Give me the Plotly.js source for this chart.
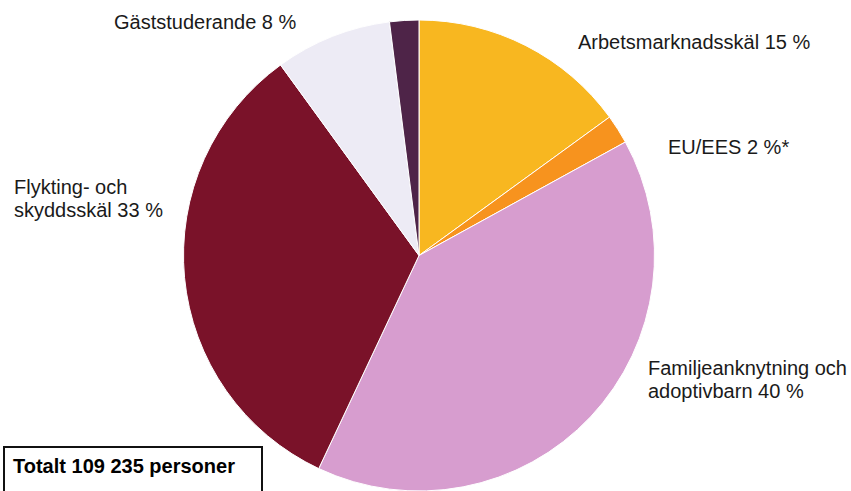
<!DOCTYPE html>
<html><head><meta charset="utf-8">
<script src="https://cdn.plot.ly/plotly-3.0.1.min.js"></script>
<style>html,body{margin:0;padding:0;background:#fff}#chart{width:851px;height:491px}</style>
</head><body><div id="chart"></div>
<script>
var categories = ["Arbetsmarknadsskäl", "EU/EES", "Familjeanknytning och adoptivbarn", "Flykting- och skyddsskäl", "Gäststuderande", "Övrigt"];
var shares = [15, 2, 40, 33, 8, 2];
var labelLines = [
  ["Arbetsmarknadsskäl 15 %"],
  ["EU/EES 2 %*"],
  ["Familjeanknytning och", "adoptivbarn 40 %"],
  ["Flykting- och", "skyddsskäl 33 %"],
  ["Gäststuderande 8 %"]
];
var totalText = "Totalt 109 235 personer";
var colors = ["#F8B720", "#F7931E", "#D79DCF", "#7A1229", "#EDEBF5", "#4E2448"];

var W = 851, H = 491;
function px(x){ return x / W; }
function py(y){ return (H - y) / H; }

var trace = {
  type: "pie",
  labels: categories,
  values: shares,
  sort: false,
  direction: "clockwise",
  rotation: 0,
  textinfo: "none",
  hoverinfo: "label+percent",
  marker: { colors: colors, line: { color: "#ffffff", width: 1 } },
  domain: { x: [px(183), px(655)], y: [0, py(20)] },
  showlegend: false
};

var font = { family: "Liberation Sans, Arial, sans-serif", size: 20, color: "#1a1a1a" };
var pos = [
  [576, 42],
  [666, 147],
  [646, 368],
  [12, 187],
  [112, 22]
];
var lineGap = 23;
var annotations = [];
labelLines.forEach(function(lines, i){
  lines.forEach(function(t, j){
    annotations.push({ text: t, xref: "paper", yref: "paper", x: px(pos[i][0]), y: py(pos[i][1] + j * lineGap),
      xanchor: "left", yanchor: "middle", align: "left", showarrow: false, font: font });
  });
});
annotations.push({ text: "<b>" + totalText + "</b>", xref: "paper", yref: "paper", x: px(11), y: py(466),
  xanchor: "left", yanchor: "middle", showarrow: false, font: { family: "Liberation Sans, Arial, sans-serif", size: 20, color: "#000" } });

var layout = {
  width: W, height: H,
  margin: { l: 0, r: 0, t: 0, b: 0 },
  paper_bgcolor: "#ffffff",
  annotations: annotations,
  shapes: [{ type: "rect", xref: "paper", yref: "paper", x0: px(4), x1: px(262), y0: py(500), y1: py(447),
    line: { color: "#111", width: 2 }, fillcolor: "rgba(0,0,0,0)" }]
};
Plotly.newPlot("chart", [trace], layout, { displayModeBar: false, staticPlot: true });
</script></body></html>
